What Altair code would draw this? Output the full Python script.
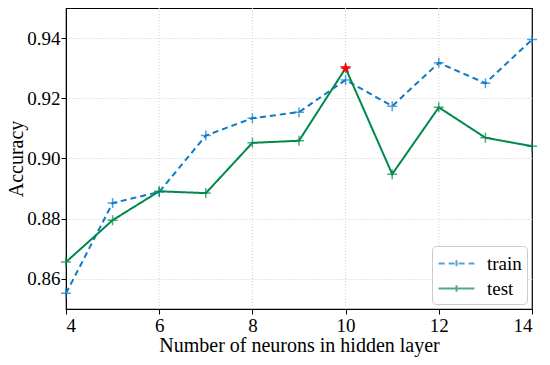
import altair as alt
import pandas as pd

neurons = [4, 5, 6, 7, 8, 9, 10, 11, 12, 13, 14]
train_acc = [0.8552, 0.8852, 0.8889, 0.9076, 0.9134, 0.9154, 0.9261, 0.9174, 0.9318, 0.9250, 0.9395]
test_acc = [0.8656, 0.8795, 0.8891, 0.8885, 0.9052, 0.9059, 0.9300, 0.8948, 0.9170, 0.9069, 0.9041]
best_x = [10]
best_y = [0.9300]

series_names = ["train", "test"]
series_colors = ["#0C7BC4", "#00894A"]
x_ticks = [4, 6, 8, 10, 12, 14]
x_inner_grid = [6, 8, 10, 12]
y_ticks = [0.86, 0.88, 0.90, 0.92, 0.94]

rows = []
for x, y in zip(neurons, train_acc):
    rows.append({"neurons": x, "acc": y, "series": "train"})
for x, y in zip(neurons, test_acc):
    rows.append({"neurons": x, "acc": y, "series": "test"})
df = pd.DataFrame(rows)
best = pd.DataFrame({"neurons": best_x, "acc": best_y})
grid_df = pd.DataFrame({"neurons": x_inner_grid})

FONT = "Liberation Serif"

xscale = alt.Scale(domain=[4, 14], nice=False, zero=False)
yscale = alt.Scale(domain=[0.85, 0.95], nice=False, zero=False)

xenc = alt.X("neurons:Q", scale=xscale,
             axis=alt.Axis(title="Number of neurons in hidden layer", values=x_ticks,
                           format="d", grid=False))
yenc = alt.Y("acc:Q", scale=yscale,
             axis=alt.Axis(title="Accuracy", values=y_ticks, format=".2f", grid=True))

color = alt.Color("series:N", scale=alt.Scale(domain=series_names, range=series_colors),
                  legend=alt.Legend(title=None, orient="bottom-right", offset=5,
                                    symbolType="M-1.6,0L1.6,0M0,-0.3L0,0.3",
                                    symbolSize=500, symbolStrokeWidth=2, symbolOffset=7,
                                    labelFont=FONT, labelFontSize=19, labelColor="black",
                                    strokeColor="#cccccc", fillColor="white", cornerRadius=4,
                                    padding=5, rowPadding=2, labelOffset=18))
dash = alt.StrokeDash("series:N", scale=alt.Scale(domain=series_names, range=[[6, 4], [1, 0]]),
                      legend=alt.Legend(title=None, orient="bottom-right"))

vgrid = alt.Chart(grid_df).mark_rule(color="#d0d0d0", strokeWidth=1, strokeDash=[1, 2]).encode(
    x=xenc)

lines = alt.Chart(df).mark_line(strokeWidth=2).encode(x=xenc, y=yenc, color=color, strokeDash=dash)

points = alt.Chart(df).mark_point(shape="M-1,0L1,0M0,-1L0,1", size=100, strokeWidth=1.5,
                                  filled=False).encode(
    x=alt.X("neurons:Q", scale=xscale),
    y=alt.Y("acc:Q", scale=yscale),
    color=alt.Color("series:N"))

star = alt.Chart(best).mark_point(
    shape="M0,-1L0.225,-0.309L0.951,-0.309L0.363,0.118L0.588,0.809L0,0.382L-0.588,0.809L-0.363,0.118L-0.951,-0.309L-0.225,-0.309Z",
    size=150, filled=True, color="#ff0000", opacity=1).encode(
    x=alt.X("neurons:Q", scale=xscale),
    y=alt.Y("acc:Q", scale=yscale))

chart = alt.layer(vgrid, lines, points, star).properties(
    width=466, height=301,
    autosize=alt.AutoSizeParams(type="none"),
    padding={"left": 58, "top": 0, "right": 10, "bottom": 48},
).configure_view(stroke="black", strokeWidth=1.2).configure_axis(
    labelFont=FONT, titleFont=FONT, labelFontSize=19, titleFontSize=20,
    labelColor="black", titleColor="black", titleFontWeight="normal",
    domainColor="black", tickColor="black", tickSize=5,
    gridColor="#d0d0d0", gridDash=[1, 2], gridWidth=1,
).configure_axisY(titlePadding=0, labelPadding=1).configure_axisX(
    titlePadding=0, labelPadding=2)

chart.save("out.html", embed_options={"renderer": "svg", "actions": False})
